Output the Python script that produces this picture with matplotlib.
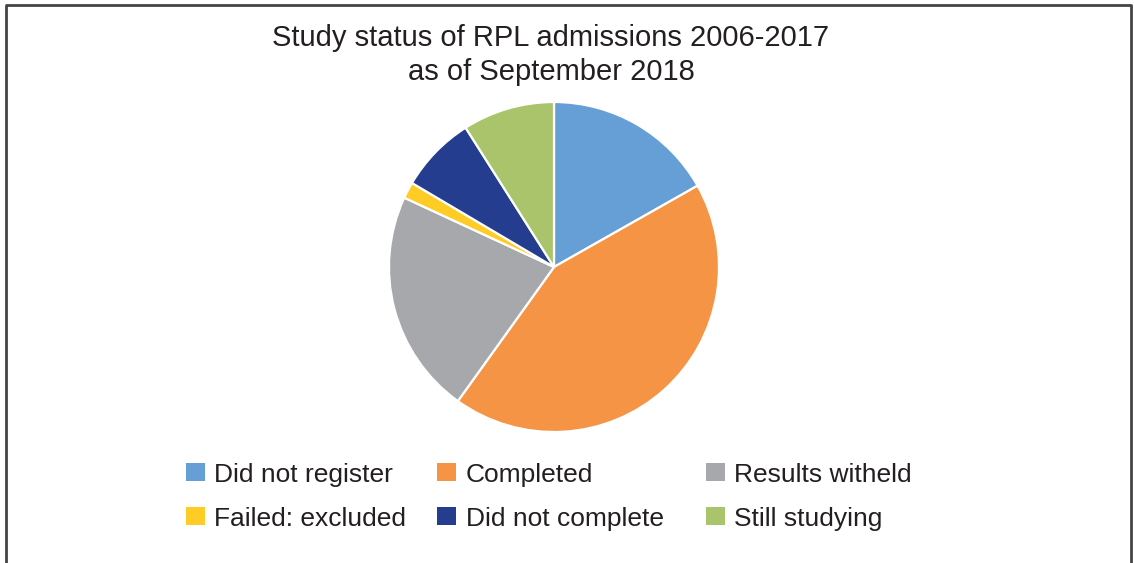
import matplotlib
matplotlib.use("Agg")
import matplotlib.pyplot as plt
from matplotlib.lines import Line2D
from matplotlib.patches import Rectangle

plt.rcParams["font.family"] = ["Liberation Sans", "DejaVu Sans"]

# Shares (percent)
labels = ['Did not register', 'Completed', 'Results witheld',
          'Failed: excluded', 'Did not complete', 'Still studying']
shares = [16.8, 43.1, 22.0, 1.6, 7.5, 9.0]
colors = ['#659FD6', '#F59444', '#A7A8AB', '#FFCB25', '#243D8F', '#A9C46B']

W, H = 1134, 563
fig = plt.figure(figsize=(W/100, H/100), dpi=100)

def fx(px):
    return px / W

def fy(py):
    return 1 - py / H

# frame (no bottom edge)
fig.add_artist(Line2D([fx(6), fx(6), fx(1131), fx(1131)], [0, fy(5), fy(5), 0],
                      transform=fig.transFigure, color='#444444', lw=2))

# pie
cx, cy, r = 554, 267, 165
ax = fig.add_axes([fx(cx - r), fy(cy + r), 2*r/W, 2*r/H])
ax.pie(shares, colors=colors, startangle=90, counterclock=False, radius=1,
       wedgeprops=dict(edgecolor='white', linewidth=1.6))
ax.set_xlim(-1, 1)
ax.set_ylim(-1, 1)
ax.axis('off')

# title
fig.text(fx(551), fy(46), 'Study status of RPL admissions 2006-2017',
         ha='center', va='baseline', fontsize=21, color='#231F20')
fig.text(fx(551), fy(80), 'as of September 2018',
         ha='center', va='baseline', fontsize=21, color='#231F20')

# legend, 3 columns x 2 rows
sq_x = [186, 437, 706]
txt_x = [214, 466, 734]
base_y = [482, 526]
for i, (lab, col) in enumerate(zip(labels, colors)):
    row, c = divmod(i, 3)
    fig.add_artist(Rectangle((fx(sq_x[c]), fy(base_y[row] - 1)), 19/W, 18/H,
                             transform=fig.transFigure, facecolor=col, edgecolor='none'))
    fig.text(fx(txt_x[c]), fy(base_y[row]), lab, ha='left', va='baseline',
             fontsize=19, color='#231F20')

fig.savefig('out.png', dpi=100)
